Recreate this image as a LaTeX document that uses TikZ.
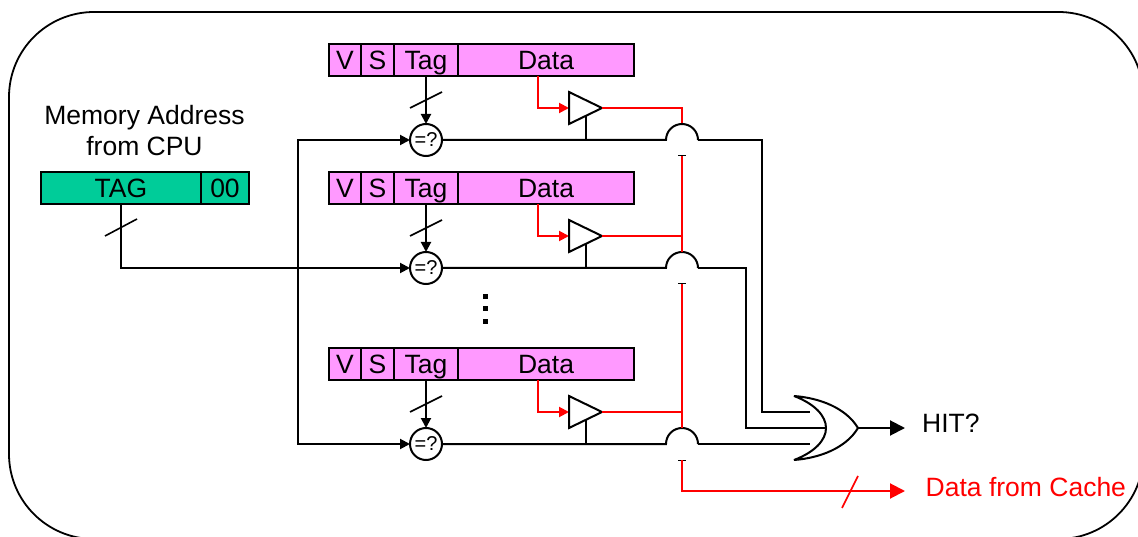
\documentclass[tikz,border=0pt]{standalone}
\usepackage{fontspec}
\setmainfont{Liberation Sans}
\usetikzlibrary{arrows.meta}
\definecolor{line}{HTML}{FF99FF}
\definecolor{addr}{HTML}{00CC99}
\tikzset{
  lbl/.style={font=\fontsize{26.5}{31}\selectfont, align=center, inner sep=0pt},
  cell/.style={draw, line width=2pt, inner sep=0pt, outer sep=0pt, minimum height=32pt,
    text height=19pt, text depth=0pt, font=\fontsize{26.5}{31}\selectfont},
  cmpr/.style={draw, circle, line width=2pt, fill=white, minimum size=32pt, inner sep=0pt,
    outer sep=0pt, font=\fontsize{20}{24}\selectfont},
  wire/.style={line width=2pt},
  rwire/.style={line width=2pt, red},
  tip/.style={-{Triangle[length=10pt,width=10pt]}},
  bigtip/.style={-{Triangle[length=15pt,width=15pt]}}}
\begin{document}
\begin{tikzpicture}[x=1pt, y=-1pt]
\useasboundingbox (0,0) rectangle (1138,537);
\draw[line width=1.8pt, rounded corners=85pt] (9,12) rectangle (1143.5,539);
% address
\node[lbl] (addrlbl) at (144.5,131) {Memory Address\\from CPU};
\node[cell, fill=addr, minimum width=160pt] (atag) at (121,188) {TAG};
\node[cell, fill=addr, minimum width=48pt] (azero) at (225,188) {00};
% one row per line of the cache
\foreach \y [count=\r] in {0,128,304} {
\begin{scope}[yshift=-\y pt]
  \node[cell, fill=line, minimum width=32pt] (v\r) at (345,60) {V};
  \node[cell, fill=line, minimum width=33pt] (s\r) at (377.5,60) {S};
  \node[cell, fill=line, minimum width=64pt] (tag\r) at (426,60) {Tag};
  \node[cell, fill=line, minimum width=176pt] (data\r) at (546,60) {Data};
  \node[cmpr] (cmp\r) at (426,140) {=?};
  \coordinate (dout\r) at (538,76);
  \coordinate (bufin\r) at (569,108);
  \coordinate (bufout\r) at (602,108);
  \coordinate (bufen\r) at (586,116);
  \coordinate (tap\r) at (586,140);
  \coordinate (bl\r) at (666,140);
  \coordinate (br\r) at (698,140);
  \coordinate (bt\r) at (682,124);
  \coordinate (bb\r) at (682,156);
  \draw[wire, tip] (tag\r) -- (cmp\r);
  \draw[line width=1.6pt] (410,108) -- (442,92);
  \draw[rwire, tip] (dout\r) |- (bufin\r);
  \draw[wire, line join=miter] (bufin\r) ++(0,-16) -- (bufout\r) -- (569,124) -- cycle;
  \draw[rwire] (bufout\r) -| (bt\r);
  \draw[wire] (cmp\r) -- (bl\r) arc[start angle=180, end angle=0, radius=16pt];
  \draw[wire] (bufen\r) -- (tap\r);
  \draw[line width=1pt] (678,156) -- (686,156);
\end{scope}
}
% data bus
\draw[rwire] (bb1) -- (bt2);
\draw[rwire] (bb2) -- (bt3);
\coordinate (busend) at (905,491);
\draw[rwire, bigtip] (bb3) |- (busend);
\draw[line width=1.6pt, red] (842,508) -- (858,476);
\node[lbl, text=red, anchor=west] (datalbl) at (925.5,487) {Data from Cache};
% or gate
\coordinate (orup) at (794,396);
\coordinate (orlow) at (794,460);
\coordinate (orout) at (858,428);
\coordinate (orin1) at (810,412);
\coordinate (orin2) at (826,428);
\coordinate (orin3) at (810,444);
\draw[wire, line join=bevel] (orup) .. controls (815,404) and (826,416) .. (orin2) .. controls (826,440) and (815,452) .. (orlow)
  .. controls (820,458) and (846,448) .. (orout) .. controls (846,408) and (820,398) .. (orup) -- cycle;
\draw[wire] (br1) -| (762,412) -- (orin1);
\draw[wire] (br2) -| (746,428) -- (orin2);
\draw[wire] (br3) -- (orin3);
\coordinate (hitend) at (905,428);
\draw[wire, bigtip] (orout) -- (hitend);
\node[lbl, anchor=west] (hitlbl) at (922,423) {HIT?};
% tag compare
\draw[wire, tip] (atag.south) |- (cmp2);
\draw[line width=1.6pt] (105,236) -- (137,219);
\coordinate (cmpbus) at (298,292);
\draw[wire, tip] (cmpbus) |- (cmp1);
\draw[wire, tip] (cmpbus) |- (cmp3);
% dots
\foreach \d [count=\i] in {297,309,321.5}
  \node[fill, inner sep=0pt, minimum size=5pt] (dot\i) at (485,\d) {};
\end{tikzpicture}
\end{document}
